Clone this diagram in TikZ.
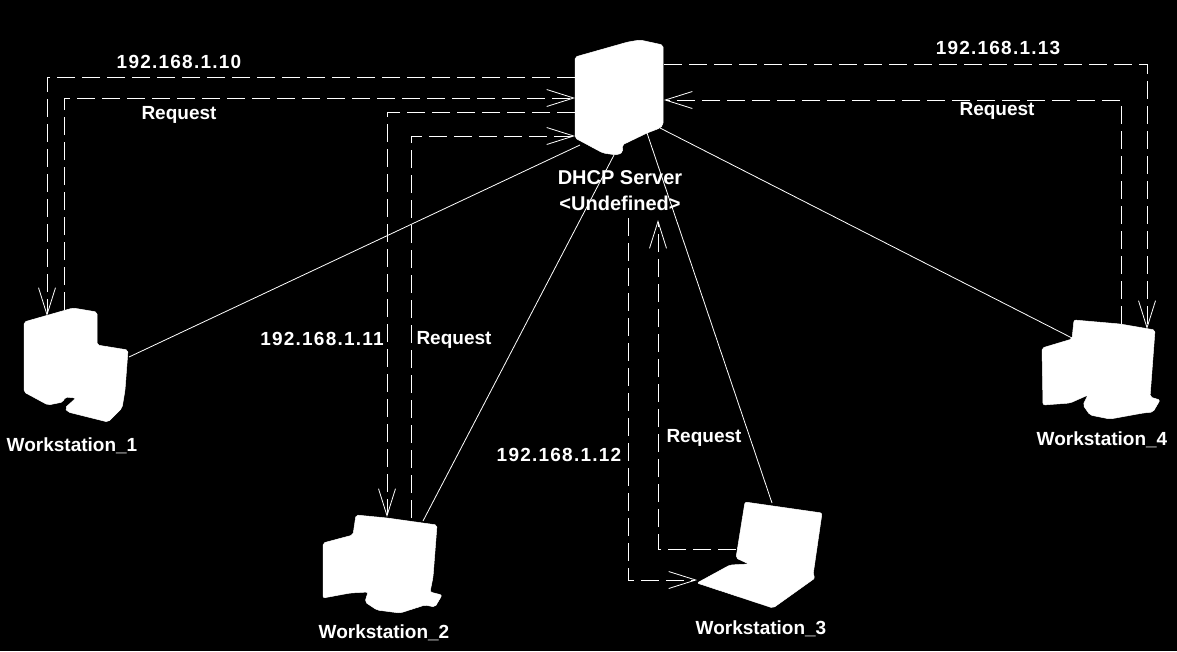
\documentclass[tikz,border=0pt]{standalone}
\usepackage{fontspec}
\setmainfont{Liberation Sans}
\usetikzlibrary{arrows.meta}

\tikzset{
	lbl/.style={text=white,inner sep=0pt,font=\bfseries\fontsize{19}{21}\selectfont},
	srvlbl/.style={text=white,inner sep=0pt,font=\bfseries\fontsize{20}{22}\selectfont},
	iplbl/.style={text=white,inner sep=0pt,font=\bfseries\fontsize{19}{21}\selectfont\addfontfeature{LetterSpace=6.5}},
	icon/.style={fill=white,draw=white,line width=0.5pt,line join=round,rounded corners=2pt},
	link/.style={white,line width=0.8pt},
	msg/.style={white,line width=0.8pt,dash pattern=on 18pt off 7pt,-{Straight Barb[length=27pt,width=17pt,line width=0.8pt]}}
}

\begin{document}
\begin{tikzpicture}[x=1pt,y=-1pt]
	\fill[black] (0,0) rectangle (1177,651);
	\useasboundingbox (0,0) rectangle (1177,651);

	% end points on the server
	\coordinate (srvOutA) at (575,77);
	\coordinate (srvInA) at (575,98);
	\coordinate (srvOutB) at (575,112);
	\coordinate (srvInB) at (575,136);
	\coordinate (srvOutC) at (628,218);
	\coordinate (srvInC) at (658,220);
	\coordinate (srvOutD) at (664,64);
	\coordinate (srvInD) at (664,100);
	\coordinate (srvLinkA) at (580,145);
	\coordinate (srvLinkB) at (614,155);
	\coordinate (srvLinkC) at (647,133);
	\coordinate (srvLinkD) at (660,128);
	% end points on the workstations
	\coordinate (wsInA) at (47,316);
	\coordinate (wsOutA) at (64,310);
	\coordinate (wsLinkA) at (129,357);
	\coordinate (wsInB) at (387,517);
	\coordinate (wsOutB) at (411,518);
	\coordinate (wsLinkB) at (423,521);
	\coordinate (wsInC) at (697,580);
	\coordinate (wsOutC) at (736,549);
	\coordinate (wsLinkC) at (772,503);
	\coordinate (wsInD) at (1147,329);
	\coordinate (wsOutD) at (1121,324);
	\coordinate (wsLinkD) at (1072,338);

	% server
	\fill[icon] (575,57) -- (628,42) -- (640,40) -- (663,45) -- (663,125) -- (660,128) -- (647,133) -- (622,145) -- (623,152) -- (617,155) -- (603,153) -- (575,138) -- cycle;
	% workstations
	\fill[icon] (24,322) -- (73,308) -- (97,312) -- (97,345) -- (128,350) -- (125,390) -- (122,408) -- (108,422) -- (68,412) -- (65,408) -- (76,398) -- (65,397) -- (63,402) -- (48,405) -- (24,392) -- cycle;
	\fill[icon] (323,543) -- (353,535) -- (356,515) -- (387,518) -- (437,525) -- (433,577) -- (430,592) -- (442,595) -- (435,607) -- (425,605) -- (400,613) -- (377,610) -- (365,602) -- (368,592) -- (350,593) -- (323,598) -- cycle;
	\fill[icon] (745,502) -- (822,513) -- (813,575) -- (815,578) -- (773,608) -- (697,583) -- (730,565) -- (749,564) -- (736,558) -- cycle;
	\fill[icon] (1042,348) -- (1072,339) -- (1074,320) -- (1120,324) -- (1155,330) -- (1150,397) -- (1160,400) -- (1153,412) -- (1143,413) -- (1110,419) -- (1090,415) -- (1083,405) -- (1088,395) -- (1070,403) -- (1043,405) -- cycle;

	% plain links
	\draw[link] (wsLinkA) -- (srvLinkA);
	\draw[link] (wsLinkB) -- (srvLinkB);
	\draw[link] (wsLinkC) -- (srvLinkC);
	\draw[link] (wsLinkD) -- (srvLinkD);

	% address and request messages
	\draw[msg] (srvOutA) -| (wsInA);
	\draw[msg] (wsOutA) |- (srvInA);
	\draw[msg] (srvOutB) -| (wsInB);
	\draw[msg] (wsOutB) |- (srvInB);
	\draw[msg] (srvOutC) |- (wsInC);
	\draw[msg] (wsOutC) -| (srvInC);
	\draw[msg] (srvOutD) -| (wsInD);
	\draw[msg] (wsOutD) |- (srvInD);

	\node[iplbl] (ipA) at (179,62) {192.168.1.10};
	\node[lbl] (reqA) at (179,115) {Request};
	\node[iplbl] (ipB) at (322,339) {192.168.1.11};
	\node[lbl] (reqB) at (454,340) {Request};
	\node[iplbl] (ipC) at (559,455) {192.168.1.12};
	\node[lbl] (reqC) at (704,438) {Request};
	\node[iplbl] (ipD) at (998,48) {192.168.1.13};
	\node[lbl] (reqD) at (997,111) {Request};
	\node[srvlbl] (srvName) at (620,178) {DHCP Server};
	\node[srvlbl] (srvType) at (620,203) {<Undefined>};
	\node[lbl] (wsNameA) at (72,446) {Workstation\_1};
	\node[lbl] (wsNameB) at (384,633) {Workstation\_2};
	\node[lbl] (wsNameC) at (761,629) {Workstation\_3};
	\node[lbl] (wsNameD) at (1102,440) {Workstation\_4};
\end{tikzpicture}
\end{document}
